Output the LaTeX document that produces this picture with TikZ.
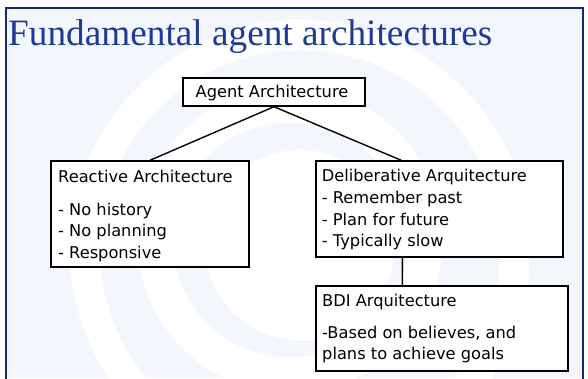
\documentclass[tikz,border=0pt]{standalone}
\usepackage{fontspec}
\setmainfont{DejaVu Sans}
\newfontfamily\titlefont{Liberation Serif}
\definecolor{frameblue}{RGB}{20,40,110}
\definecolor{titleblue}{RGB}{28,58,150}
\definecolor{swirl}{RGB}{243,247,253}
\begin{document}
\begin{tikzpicture}[x=1bp,y=-1bp,
  box/.style={draw=black, line width=1.4bp, fill=white, rectangle, inner sep=0},
  txt/.style={anchor=base west, align=left, inner sep=0, font=\fontsize{16.3}{21.7}\selectfont},
  conn/.style={draw=black, line width=1.4bp}]
\useasboundingbox (0,0) rectangle (588,378);
\fill[white] (0,0) rectangle (588,378);
\begin{scope}
  \clip (6,8) rectangle (583,378);
  \fill[swirl] (6,8) rectangle (583,378);
  \draw[white, line width=30bp] (300,250) circle (215);
  \draw[white, line width=35bp] (290,240) circle (135);
  \fill[white] (300,245) circle (95);
\end{scope}
\draw[frameblue, line width=2bp] (6,390) -- (6,8) -- (583,8) -- (583,390);
\node[anchor=base west, inner sep=0, text=titleblue, font=\titlefont\fontsize{37.4}{40}\selectfont] (title) at (8,45) {Fundamental agent architectures};

\node[box, minimum width=182bp, minimum height=28bp] (agent) at (274,92) {};
\node[box, minimum width=198bp, minimum height=106bp] (react) at (150,214) {};
\node[box, minimum width=247bp, minimum height=96bp] (delib) at (439.5,209) {};
\node[box, minimum width=252bp, minimum height=85bp] (bdi) at (442,328.5) {};

\draw[conn] (agent.south) -- (react.north);
\draw[conn] (agent.south) -- ([xshift=86bp]delib.north west);
\draw[conn] ([xshift=87bp]delib.south west) -- ([xshift=87bp]bdi.north west);

\node[txt, anchor=base] (agenttxt) at (272,97.3) {Agent Architecture};
\node[txt] (reacttxt) at (58,258.4) {Reactive Architecture\\[10.6bp]- No history\\- No planning\\- Responsive};
\node[txt] (delibtxt) at (321.7,246.8) {Deliberative Arquitecture\\- Remember past\\- Plan for future\\- Typically slow};
\node[txt] (bditxt) at (322,359.7) {BDI Arquitecture\\[9.5bp]-Based on believes, and\\plans to achieve goals};
\end{tikzpicture}
\end{document}
